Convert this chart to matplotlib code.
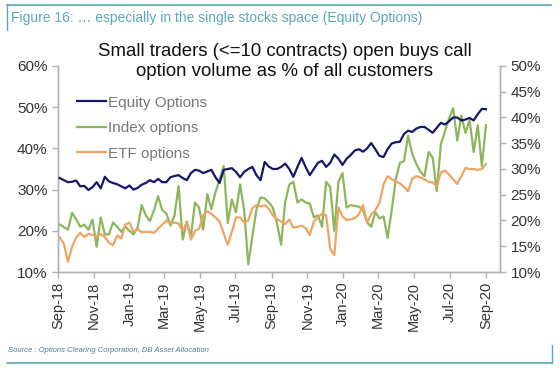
import pandas as pd
import matplotlib
matplotlib.use("Agg")
import matplotlib.pyplot as plt
import matplotlib.dates as mdates
from matplotlib.ticker import FuncFormatter, MultipleLocator

plt.rcParams["font.family"] = ["Liberation Sans", "DejaVu Sans"]

# weekly observations, Sep-2018 .. Sep-2020
dates = pd.date_range("2018-09-04", periods=105, freq="7D")

# left axis (%)
equity = [
    32.8, 32.3, 31.8, 31.9, 32.2, 30.8, 30.9, 29.9, 30.6, 31.8,
    30.3, 33.1, 32.0, 31.6, 31.3, 30.8, 30.3, 31.0, 30.0, 30.4,
    31.2, 31.6, 32.3, 31.8, 32.6, 31.8, 31.8, 33.0, 33.3, 33.5,
    32.8, 32.3, 34.0, 34.8, 34.6, 34.0, 34.4, 34.8, 33.0, 31.6,
    34.8, 35.0, 35.2, 34.3, 33.0, 34.3, 35.0, 35.5, 33.5, 32.3,
    36.7, 35.6, 35.0, 35.0, 35.5, 36.3, 35.0, 33.1, 35.5, 37.7,
    35.5, 33.5, 35.0, 36.5, 37.0, 35.5, 36.5, 38.5, 37.5, 36.0,
    37.5, 38.4, 39.5, 39.8, 39.2, 40.0, 41.3, 39.8, 38.2, 37.9,
    39.8, 41.2, 41.5, 41.6, 43.5, 44.3, 44.0, 44.8, 45.2, 45.2,
    44.5, 43.8, 45.0, 46.2, 45.8, 46.6, 47.5, 47.5, 46.8, 47.0,
    47.4, 46.8, 48.3, 49.6, 49.5,
]

# right axis (%)
index_opts = [
    19.2, 18.7, 18.2, 21.5, 20.2, 18.8, 19.2, 18.2, 20.2, 14.9,
    20.6, 17.3, 17.3, 19.6, 18.8, 17.8, 18.8, 18.0, 17.3, 18.6,
    23.0, 21.0, 19.9, 22.0, 24.7, 22.0, 21.4, 19.0, 21.0, 26.7,
    16.3, 19.8, 16.9, 23.5, 22.5, 18.2, 25.1, 22.2, 25.5, 28.0,
    30.6, 19.5, 24.1, 21.6, 27.0, 22.0, 11.5, 16.9, 22.2, 24.5,
    24.3, 23.5, 22.5, 19.5, 15.3, 23.5, 27.0, 27.5, 23.5, 24.1,
    23.5, 23.3, 20.6, 21.0, 18.8, 27.5, 26.5, 18.0, 27.5, 29.2,
    22.5, 23.0, 22.8, 22.7, 22.0, 19.6, 18.8, 21.6, 20.4, 20.8,
    16.6, 22.0, 28.0, 31.2, 31.5, 36.5, 33.0, 31.0, 29.5, 28.6,
    33.3, 32.2, 25.7, 34.8, 37.3, 39.8, 41.8, 35.5, 40.4, 37.0,
    39.5, 33.3, 38.5, 30.6, 38.5,
]

etf_opts = [
    16.7, 15.5, 12.0, 14.9, 16.7, 17.6, 16.8, 17.4, 17.2, 16.9,
    17.4, 16.8, 15.7, 15.2, 17.1, 16.5, 19.2, 19.6, 17.8, 18.3,
    17.7, 17.8, 17.8, 17.6, 18.4, 19.2, 20.0, 19.4, 19.6, 19.4,
    18.0, 19.6, 16.3, 18.0, 18.4, 21.0, 21.8, 21.3, 20.6, 19.8,
    17.5, 15.3, 17.8, 20.6, 20.6, 19.6, 20.0, 22.4, 23.0, 22.7,
    23.0, 22.3, 21.0, 20.3, 19.8, 19.3, 20.2, 18.6, 18.8, 19.0,
    18.5, 17.2, 19.8, 20.6, 21.3, 21.0, 14.5, 13.3, 22.5, 20.8,
    20.1, 20.2, 20.5, 21.2, 23.0, 19.6, 21.2, 22.0, 23.4, 27.0,
    28.6, 28.0, 27.6, 27.2, 26.5, 25.7, 28.1, 28.6, 28.4, 28.0,
    27.5, 27.4, 26.7, 29.3, 29.7, 28.9, 28.0, 27.1, 28.6, 30.2,
    30.0, 30.0, 29.8, 30.0, 31.0,
]

NAVY = "#16166a"
GREEN = "#8db65c"
ORANGE = "#f0a463"
TEAL = "#5ba8b6"

fig = plt.figure(figsize=(5.6, 3.68), dpi=100)
ax = fig.add_axes([58 / 560, 1 - 272 / 368, 442 / 560, 206 / 368])
ax2 = ax.twinx()

ax.plot(dates, equity, color=NAVY, lw=1.6, label="Equity Options", zorder=3)
ax2.plot(dates, index_opts, color=GREEN, lw=1.6, label="Index options")
ax2.plot(dates, etf_opts, color=ORANGE, lw=1.6, label="ETF options")
ax.set_zorder(ax2.get_zorder() + 1)
ax.patch.set_visible(False)

ax.set_ylim(10, 60)
ax2.set_ylim(10, 50)
ax.yaxis.set_major_locator(MultipleLocator(10))
ax2.yaxis.set_major_locator(MultipleLocator(5))
pct = FuncFormatter(lambda v, _: f"{v:.0f}%")
ax.yaxis.set_major_formatter(pct)
ax2.yaxis.set_major_formatter(pct)

ax.set_xlim(pd.Timestamp("2018-09-01"), pd.Timestamp("2020-09-25"))
ax.xaxis.set_major_locator(mdates.MonthLocator(bymonth=[1, 3, 5, 7, 9, 11]))
ax.xaxis.set_major_formatter(mdates.DateFormatter("%b-%y"))
for lab in ax.get_xticklabels():
    lab.set_rotation(90)

for a in (ax, ax2):
    a.spines["top"].set_visible(False)
    for s in ("left", "right", "bottom"):
        a.spines[s].set_color("#b0b0b0")
        a.spines[s].set_linewidth(1.0)
    a.tick_params(axis="both", colors="#b0b0b0", labelcolor="#333333",
                  length=4, width=1.0, labelsize=11)
ax.tick_params(axis="x", labelsize=10.5, pad=3)

h1, l1 = ax.get_legend_handles_labels()
h2, l2 = ax2.get_legend_handles_labels()
leg = ax.legend(h1 + h2, l1 + l2, loc="upper left", bbox_to_anchor=(0.03, 0.885),
                frameon=False, fontsize=11, handlelength=1.85, handletextpad=0.15,
                labelspacing=0.75, borderaxespad=0)
for t in leg.get_texts():
    t.set_color("#777777")

fig.text(285 / 560, 1 - 43 / 368,
         "Small traders (<=10 contracts) open buys call\noption volume as % of all customers",
         ha="center", va="top", fontsize=13.4, color="#111111", linespacing=1.2)

# report frame
fig.add_artist(plt.Line2D([7 / 560, 551 / 560], [1 - 5 / 368, 1 - 5 / 368], color=TEAL, lw=1.2))
fig.add_artist(plt.Line2D([7 / 560, 7 / 560], [1 - 5 / 368, 1 - 30 / 368], color=TEAL, lw=1.0))
fig.add_artist(plt.Line2D([7 / 560, 552 / 560], [1 - 363 / 368, 1 - 363 / 368], color=TEAL, lw=1.2))
fig.add_artist(plt.Line2D([552 / 560, 552 / 560], [1 - 345 / 368, 1 - 363 / 368], color=TEAL, lw=1.0))
fig.text(11 / 560, 1 - 18 / 368,
         "Figure 16: \u2026 especially in the single stocks space (Equity Options)",
         ha="left", va="center", fontsize=10, color=TEAL)
fig.text(8 / 560, 1 - 351 / 368,
         "Source : Options Clearing Corporation, DB Asset Allocation",
         ha="left", va="center", fontsize=5.5, style="italic", color="#4a7f8c")

fig.savefig("out.png", dpi=100)
